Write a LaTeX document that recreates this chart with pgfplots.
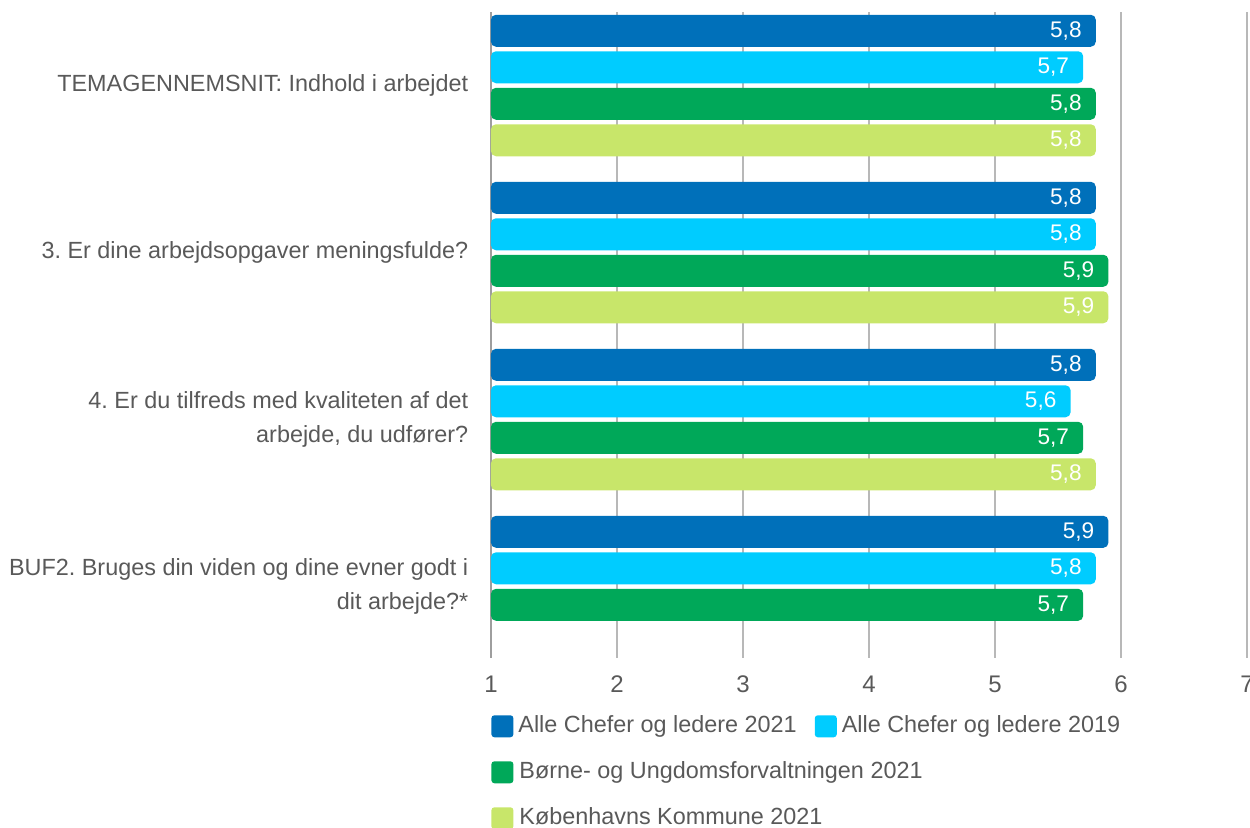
\documentclass[border=0pt]{standalone}
\usepackage{fontspec}
\setmainfont{Liberation Sans}
\usepackage{pgfplots}
\pgfplotsset{compat=1.18}
\definecolor{cA}{RGB}{0,112,186}
\definecolor{cB}{RGB}{0,204,255}
\definecolor{cC}{RGB}{0,168,89}
\definecolor{cD}{RGB}{200,230,106}
\definecolor{txt}{RGB}{89,89,89}
\pgfplotsset{sq/.style={legend image code/.code={\fill[##1,rounded corners=1.5pt] (0pt,-5.5pt) rectangle (11pt,5.5pt);}}}
\begin{document}
\frenchspacing
\fontsize{11.7}{14}\selectfont
\begin{tikzpicture}
\useasboundingbox (0,0) rectangle (625pt,-413.5pt);
\begin{axis}[
  at={(245.5pt,-6pt)}, anchor=north west,
  scale only axis, width=378pt, height=323pt,
  xbar, bar width=16pt,
  xmin=1, xmax=7, ymin=-0.44, ymax=3.428, y dir=reverse,
  xtick={1,2,3,4,5,6,7},
  ytick={0,1,2,3},
  yticklabels={TEMAGENNEMSNIT: Indhold i arbejdet,
    3. Er dine arbejdsopgaver meningsfulde?,
    {4. Er du tilfreds med kvaliteten af det\\arbejde, du udfører?},
    {BUF2. Bruges din viden og dine evner godt i\\dit arbejde?*}},
  yticklabel style={align=right, text=txt, font=\fontsize{11.7}{17}\selectfont, xshift=-3pt},
  xticklabel style={text=txt, font=\fontsize{12}{14}\selectfont, yshift=-5pt},
  /pgf/number format/assume math mode=true,
  xmajorgrids, grid style={color=black!28, line width=0.8pt},
  axis line style={draw=none}, tick style={draw=none},
  extra x ticks={1}, extra x tick labels={},
  extra x tick style={grid style={color=black!38, line width=1.1pt}},
  nodes near coords={\pgfmathprintnumber[fixed,fixed zerofill,precision=1,use comma,assume math mode=true]{\pgfplotspointmeta}},
  nodes near coords style={anchor=east, xshift=-3pt, text=white, font=\fontsize{11.3}{13}\selectfont},
  legend columns=2,
  legend style={at={(0,-0.088)}, anchor=north west, draw=none, fill=none, inner sep=0pt,
    font=\fontsize{11.7}{14}\selectfont, text=txt,
    column sep=2.5pt, row sep=12pt,
    /tikz/every even column/.append style={column sep=9pt},
    nodes={inner sep=0pt, text height=8.5pt, text depth=2.5pt}},
  legend cell align=left,
]
\addplot[fill=cA, draw=none, rounded corners=2.5pt, bar shift=27.375pt, sq] coordinates {(5.8,0) (5.8,1) (5.8,2) (5.9,3)};
\addlegendentry{Alle Chefer og ledere 2021}
\addplot[fill=cB, draw=none, rounded corners=2.5pt, bar shift=9.125pt, sq] coordinates {(5.7,0) (5.8,1) (5.6,2) (5.8,3)};
\addlegendentry{Alle Chefer og ledere 2019}
\addplot[fill=cC, draw=none, rounded corners=2.5pt, bar shift=-9.125pt, sq] coordinates {(5.8,0) (5.9,1) (5.7,2) (5.7,3)};
\addlegendentry{\makebox[0pt][l]{Børne- og Ungdomsforvaltningen 2021}}
\addlegendimage{empty legend}
\addlegendentry{}
\addplot[fill=cD, draw=none, rounded corners=2.5pt, bar shift=-27.375pt, sq] coordinates {(5.8,0) (5.9,1) (5.8,2)};
\addlegendentry{\makebox[0pt][l]{Københavns Kommune 2021}}
\end{axis}
\end{tikzpicture}
\end{document}
